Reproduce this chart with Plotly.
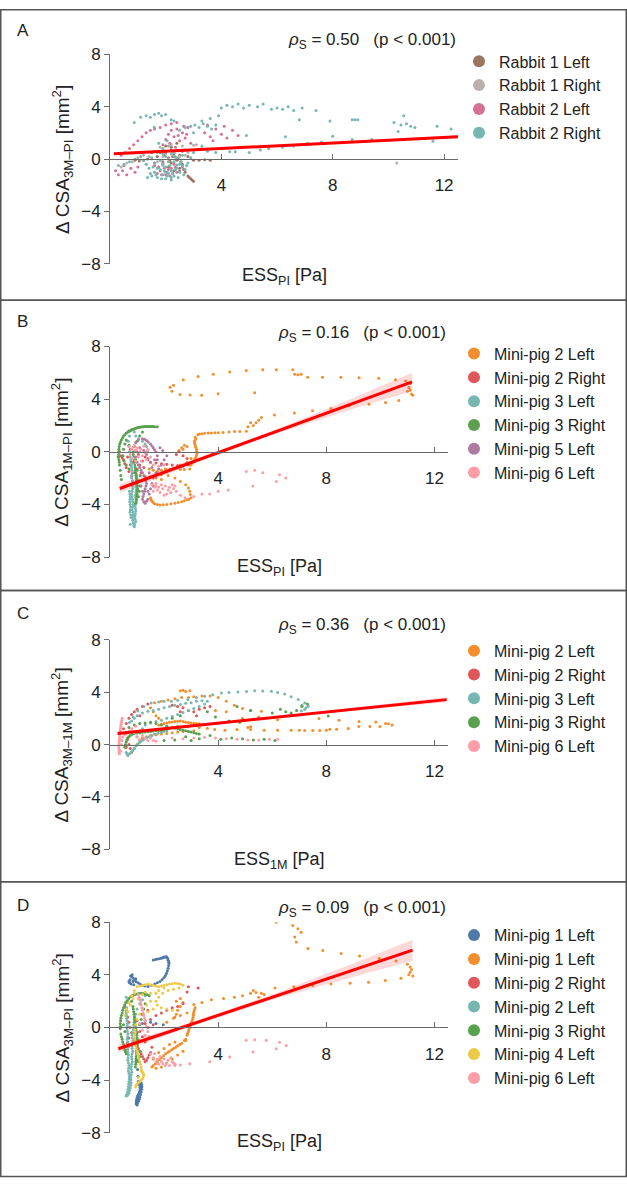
import plotly.graph_objects as go

W, H = 627, 1188

# ---------------- DATA ----------------
A_rabbit1_left = [(0.9,-0.1),(1.05,-0.15),(1.2,-0.1),(1.35,0.0),(1.7,0.2),(1.8,0.5),(1.9,-0.2),(2.0,0.6),(2.1,0.1),(2.2,-0.3),
    (2.3,0.4),(2.4,-0.1),(2.5,0.3),(2.6,-0.4),(2.1,-0.6),(2.3,-0.9),(2.5,-0.7),(2.7,-1.0),(2.8,-1.3),(2.9,-1.5),(3.0,-1.7),
    (2.95,-1.6),(2.0,1.0),(2.2,0.9),(2.4,1.2),(2.6,0.6),(2.8,0.2),(3.0,-0.1),(3.2,-0.1),(3.4,-0.05),(3.6,-0.1),(1.6,-0.3),
    (1.5,0.5),(2.7,0.7),(2.25,0.2),(2.45,0.0),(1.95,0.3),(2.15,-0.15),(2.35,0.15),(2.55,-0.2),(2.65,-0.8),(2.85,-1.4)]
A_rabbit1_right = [(0.6,-0.3),(0.8,-0.2),(1.0,0.1),(1.2,0.3),(1.4,0.2),(1.6,0.6),(1.8,0.9),(2.0,0.4),(2.2,1.1),(2.4,0.7),
    (2.6,1.0),(2.8,0.5),(3.0,1.05),(3.1,1.1),(3.3,0.8),(1.7,-0.2),(1.9,-0.5),(2.1,0.0),(2.3,-0.3),(2.5,0.2),(10.3,-0.3),
    (0.4,-0.6),(1.3,-0.4),(1.5,0.0),(1.9,0.2),(2.3,0.5),(2.7,0.3)]
A_rabbit2_left = [(0.2,-0.9),(0.3,-1.2),(0.45,-0.9),(0.6,-1.2),(0.5,-0.5),(0.75,-0.7),(0.9,-1.0),(1.0,-0.6),(0.4,0.3),
    (0.55,0.5),(0.7,0.8),(0.85,1.1),(1.0,1.4),(1.15,1.7),(1.3,2.0),(1.45,2.2),(1.6,2.3),(1.8,2.4),(2.0,2.6),(2.2,2.7),
    (2.4,2.8),(2.0,1.5),(2.1,1.9),(2.2,2.2),(2.3,1.7),(2.4,2.3),(2.5,1.4),(2.6,2.0),(2.7,1.6),(2.8,2.4),(2.9,1.2),
    (2.15,1.2),(2.35,0.9),(1.9,1.1),(2.0,0.5),(2.2,0.7),(3.4,2.0),(3.6,1.7),(3.8,2.3),(4.0,1.9),(4.2,1.6),(4.4,2.2),
    (4.6,1.8),(3.7,1.4),(4.1,2.5),(3.5,2.6),(1.6,-0.5),(1.8,-0.9),(2.0,-1.2),(2.2,-0.7),(2.4,-1.0),(1.7,-1.1),(1.9,-0.3),
    (2.1,-0.8),(2.3,-0.4),(2.6,-0.6),(1.75,-0.6),(1.95,-0.7),(2.05,-1.0),(2.15,-1.3),(2.25,-1.1),(1.85,-1.2),(2.35,-0.6),
    (2.5,-0.9),(2.45,1.8),(2.65,2.5),(2.75,1.9)]
A_rabbit2_right = [(1.5,-1.3),(1.6,-1.0),(1.7,-1.4),(1.8,-0.8),(1.9,-1.2),(2.0,-0.6),(2.1,-1.1),(2.2,-0.9),(2.3,-1.3),
    (2.4,-0.7),(2.5,-1.0),(2.6,-0.5),(1.6,-0.3),(1.8,-0.1),(2.0,0.2),(2.2,0.4),(2.4,0.1),(1.7,0.5),(1.9,0.8),(2.1,1.0),
    (2.3,-0.2),(2.5,-0.4),(2.7,-0.8),(1.4,-0.7),(1.5,0.1),(1.3,-0.4),(2.8,-0.3),(2.0,-1.5),(2.2,-1.6),(1.9,-0.4),
    (2.1,-0.2),(2.3,0.6),(2.6,0.3),(2.9,0.1),(1.75,1.2),(2.05,1.4),(0.3,-0.5),(0.5,-0.4),(0.7,-0.2),(0.9,0.0),(1.1,0.2),
    (1.2,-0.1),(0.87,2.8),(1.1,3.2),(1.3,3.3),(1.45,3.2),(1.6,3.4),(1.75,3.5),(1.85,3.3),(2.0,3.4),(2.2,3.0),(2.3,2.9),
    (1.59,2.43),(2.5,2.2),(2.7,2.4),(3.0,2.0),(2.9,2.5),(3.05,2.6),(3.2,2.4),(3.35,2.7),(3.5,2.5),(3.65,2.3),(3.8,2.6),
    (3.3,2.9),(3.6,3.1),(3.9,3.3),(4.0,3.9),(4.2,4.1),(4.4,4.0),(4.6,4.2),(4.8,3.9),(5.0,4.1),(5.3,4.0),(5.5,4.2),
    (5.8,3.8),(6.0,3.9),(6.2,3.8),(6.4,4.0),(6.6,3.7),(6.9,3.9),(7.4,3.7),(7.9,2.9),(8.0,1.75),(8.7,3.0),(8.8,3.0),
    (8.9,3.0),(8.7,1.5),(9.4,1.5),(10.2,2.8),(10.35,2.1),(10.45,2.6),(10.55,3.3),(10.65,2.7),(10.8,2.5),(10.95,2.4),
    (11.6,1.35),(11.75,2.5),(12.25,2.3),(3.0,0.5),(3.3,1.0),(3.5,0.6),(3.8,0.5),(4.3,0.55),(4.5,0.55),(5.0,0.5),
    (5.4,0.7),(5.7,0.8),(6.2,0.9),(6.6,1.0),(4.9,1.8),(6.3,1.7),(6.8,3.0),(7.1,1.2),(7.6,1.3),(1.55,-0.6),(1.65,-1.2),
    (1.85,-1.5),(1.95,-0.9),(2.05,-1.3),(2.15,-0.5),(2.25,-1.1),(2.35,-0.8),(2.45,-1.4),(2.55,-0.2),(1.45,-1.1),
    (2.65,-1.2),(2.75,-0.5),(1.35,-1.4),(2.0,-1.0),(2.2,-1.4),(1.7,-0.7),(2.4,-0.45),(1.9,0.4),(2.3,0.2)]

B_mp2_left = [(2.22,4.91),(2.29,4.61),(2.35,5.06),(2.59,4.36),(2.71,5.48),(2.96,4.31),(3.26,5.73),(3.39,4.29),(3.82,5.9),
    (4.0,4.41),(4.43,6.06),(5.04,6.18),(5.35,4.49),(5.65,6.23),(6.15,6.23),(6.76,6.23),(6.83,5.9),(6.95,5.85),(7.07,5.9),
    (7.31,5.66),(7.86,5.66),(8.54,5.66),(9.21,5.63),(9.94,5.58),(10.56,5.48),(10.93,5.38),(11.11,5.18),(11.05,4.88),
    (11.0,4.6),(11.15,4.4),(11.2,4.3),(11.1,4.7),(10.68,3.9),(10.19,3.74),(9.58,3.61),(8.84,3.49),(8.17,3.29),(7.49,3.12),
    (6.82,2.94),(6.08,2.79),(5.6,2.6),(5.5,2.4),(5.4,2.2),(5.3,2.0),(5.2,2.2),(5.1,1.9),(5.04,1.57),(4.61,1.54),(4.18,1.47),
    (3.88,1.44),(3.63,1.42),(3.39,1.37),(3.25,1.3),(3.15,1.1),(3.12,0.8),(3.15,0.5),(3.2,0.2),(3.22,-0.1),(3.18,-0.4),
    (3.1,-0.7),(3.0,-1.0),(2.55,0.1),(2.65,0.3),(2.75,0.5),(2.85,0.4),(2.7,0.2),(2.1,-1.5),(2.35,-1.25),(2.6,-1.0),
    (2.85,-0.8),(3.0,-0.5),(1.9,-1.75),(2.15,-1.8),(2.4,-2.0),(2.6,-2.25),(2.8,-2.5),(2.9,-2.75),(2.95,-3.0),(3.0,-3.5),
    (2.85,-3.65),(2.65,-3.8),(2.4,-3.9),(2.1,-4.0),(1.85,-4.05),(1.65,-3.95),(1.55,-3.75),(1.5,-3.5),(1.45,-1.3),(1.6,-1.4),
    (1.75,-1.5),(1.9,-1.4),(2.05,-1.3),(2.2,-1.35),(1.5,-1.9),(1.7,-2.0),(1.9,-2.1),(2.6,-1.35),(2.75,-1.35),(2.95,-1.3),
    (2.97,-3.25),(2.92,-3.6),(2.75,-3.72),(2.52,-3.85),(2.25,-3.95),(1.97,-4.03),(1.75,-4.0),(1.6,-3.85),(1.52,-3.62),
    (3.17,0.95),(3.13,0.65),(3.17,0.35),(3.21,0.05),(3.2,-0.25),(3.14,-0.55),(3.05,-0.85),(3.3,1.35),(3.5,1.4),(3.75,1.43),
    (4.0,1.45),(4.4,1.5),(4.8,1.55)]
B_mp2_right = [(0.35,0.0),(0.4,-0.3),(0.5,-0.6),(0.55,-0.9),(0.6,-1.2),(0.7,-1.5),(0.8,-1.8),(0.9,-1.6),(1.0,-1.3),(1.1,-1.0),
    (1.2,-0.7),(1.3,-0.4),(1.15,-1.6),(1.3,-1.9),(0.65,-0.4),(0.85,-0.8),(1.05,-0.2),(1.5,-0.8),(1.7,-0.85),(1.9,-0.9),
    (2.1,-0.95),(2.3,-1.0),(2.5,-1.05),(2.7,-1.1),(2.9,-1.0),(2.55,0.0),(2.7,-0.3),(2.85,-0.5),(2.45,-0.2),(0.75,0.2),(0.95,0.1),
    (0.45,-0.45),(0.75,-1.0),(1.25,-1.2),(1.4,-0.6)]
B_mp3_left = [(0.7,1.6),(0.72,1.2),(0.68,0.8),(0.7,0.4),(0.72,0.0),(0.75,-0.4),(0.78,-0.8),(0.8,-1.2),(0.82,-1.6),(0.8,-2.0),
    (0.82,-2.4),(0.84,-2.8),(0.8,-3.2),(0.83,-3.6),(0.85,-4.0),(0.82,-4.4),(0.86,-4.8),(0.84,-5.2),(0.88,-5.6),(0.9,-5.7),
    (0.95,-5.3),(0.92,-4.9),(0.95,-4.5),(0.93,-4.1),(0.96,-3.7),(0.94,-3.3),(0.97,-2.9),(0.95,-2.5),(1.0,-2.1),(0.98,-1.7),
    (0.75,-5.5),(0.78,-5.0),(0.74,-4.6),(0.76,-4.2),(0.73,-3.8),(0.75,-3.4),(0.72,-3.0),(0.8,1.7),(0.9,1.5),(0.95,1.2),
    (1.05,1.0),(1.2,0.8),(1.35,0.4),(1.4,0.1),(1.3,0.6),(0.77,-0.6),(0.79,-1.0),(0.81,-1.4),(0.81,-1.8),(0.83,-2.2),
    (0.83,-2.6),(0.82,-3.0),(0.82,-3.4),(0.84,-3.8),(0.84,-4.2),(0.85,-4.6),(0.85,-5.0),(0.86,-5.4),(0.91,-5.5),(0.93,-5.1),
    (0.94,-4.7),(0.94,-4.3),(0.95,-3.9),(0.95,-3.5),(0.96,-3.1),(0.96,-2.7),(0.98,-2.3),(0.99,-1.9),(0.77,-4.8),(0.75,-4.4),
    (0.745,-4.0),(0.74,-3.6),(0.735,-3.2)]
B_mp3_right = [(0.35,-1.0),(0.33,-0.6),(0.32,-0.2),(0.33,0.2),(0.36,0.6),(0.42,0.9),(0.5,1.2),(0.6,1.4),(0.7,1.55),(0.8,1.65),
    (0.9,1.75),(1.0,1.82),(1.1,1.86),(1.2,1.9),(1.3,1.92),(1.4,1.92),(1.5,1.93),(1.6,1.92),(1.75,1.9),(0.38,-1.4),(0.4,-1.8),
    (0.42,-2.1),(0.3,-0.4),(0.55,0.6),(0.5,0.2),(0.48,-0.3),(0.52,-0.7),(0.6,-1.0),(0.7,-1.3),(0.85,0.0),(0.88,-0.4),
    (0.9,-0.8),(0.93,-1.2),(0.95,-1.6),(0.97,-2.0),(1.0,-2.4),(1.02,-2.8),(1.0,-3.2),(0.98,-3.6),(0.95,-3.9),(1.05,-3.4),
    (1.08,-3.0),(1.1,-2.6),(1.05,-2.2),(1.12,-1.8),(1.0,-1.4),(0.95,-0.6),(0.9,0.4),(1.0,0.8),(1.1,1.2),(1.2,1.5),(0.6,0.9),
    (0.7,0.5),(0.34,-0.8),(0.32,-0.4),(0.32,0.0),(0.34,0.4),(0.39,0.75),(0.46,1.05),(0.55,1.3),(0.65,1.48),(0.75,1.6),
    (0.85,1.7),(0.95,1.78),(1.05,1.84),(1.15,1.88),(1.25,1.91),(1.35,1.92),(1.45,1.93),(1.55,1.92),(1.65,1.91),(0.86,-0.2),
    (0.89,-0.6),(0.92,-1.0),(0.94,-1.4),(0.96,-1.8),(0.98,-2.2),(1.01,-2.6),(1.01,-3.0),(0.99,-3.4),(0.97,-3.8)]
B_mp5_left = [(0.95,0.7),(1.05,0.9),(1.2,1.0),(1.35,0.85),(1.5,0.6),(1.6,0.3),(1.7,0.0),(1.75,-0.3),(1.65,-0.6),(1.5,-0.8),
    (1.4,-0.5),(1.35,-0.2),(1.25,0.1),(1.1,0.3),(1.0,0.0),(0.95,-0.4),(1.0,-0.8),(1.1,-1.2),(1.2,-1.6),(1.3,-2.0),(1.35,-2.4),
    (1.3,-2.8),(1.25,-3.2),(1.2,-3.6),(1.3,-3.9),(1.4,-3.6),(1.45,-3.2),(1.5,-2.8),(1.55,-2.4),(1.6,-2.0),(1.7,-1.6),
    (1.8,-1.3),(1.9,-1.0),(2.0,-0.6),(2.1,-0.3),(1.85,0.3),(1.95,0.1),(1.55,-1.2),(1.45,-1.6),(1.15,-2.6),(1.2,-3.0),
    (1.4,-3.0),(1.6,-2.6),(1.75,-0.6),(1.28,0.95),(1.42,0.75),(1.55,0.45),(1.65,0.15),(1.05,-1.0),(1.15,-1.4),(1.25,-1.8),
    (1.32,-2.2),(1.33,-2.6),(1.28,-3.0),(1.22,-3.4),(1.25,-3.8),(1.35,-3.75)]
B_mp6_left = [(0.7,0.4),(0.8,0.2),(0.9,0.5),(1.0,0.3),(1.1,0.0),(1.2,-0.3),(1.3,-0.1),(1.4,0.2),(1.25,0.45),(1.05,-0.4),
    (0.95,-0.7),(0.85,-0.5),(1.15,-0.7),(1.35,-0.6),(0.75,-0.2),(1.5,-0.4),(1.6,-1.0),(1.8,-1.1),(2.0,-1.0),(1.55,-2.5),
    (1.65,-2.7),(1.75,-2.9),(1.85,-3.1),(1.95,-2.8),(2.05,-2.6),(2.15,-2.9),(2.25,-3.1),(2.35,-2.8),(2.45,-3.0),(1.7,-2.4),
    (1.9,-2.5),(2.1,-3.2),(2.3,-2.5),(1.6,-3.0),(2.0,-3.3),(2.6,-3.3),(2.78,-3.5),(3.1,-3.4),(3.4,-3.2),(3.69,-3.2),
    (4.0,-3.0),(4.37,-2.9),(5.04,-1.5),(5.35,-1.4),(5.28,-2.6),(5.65,-1.6),(6.15,-2.25),(6.27,-1.75),(6.5,-2.0),
    (0.85,0.35),(0.95,0.15),(1.15,0.2),(1.35,0.0),(1.7,-2.6),(1.8,-2.7),(2.2,-2.7),(2.4,-2.6)]

C_mp2_left = [(1.65,3.2),(1.9,3.3),(2.15,3.4),(2.4,3.5),(2.6,4.1),(2.7,4.15),(2.8,4.05),(2.95,4.1),(2.65,3.6),(2.9,3.6),
    (3.1,3.65),(3.4,3.7),(3.7,3.7),(4.0,3.6),(4.3,3.3),(4.6,3.0),(4.9,2.75),(5.2,2.6),(5.6,2.55),(7.73,1.98),(8.47,1.85),
    (9.21,1.75),(9.83,1.73),(9.98,1.38),(10.19,1.6),(10.3,1.58),(10.43,1.5),(9.61,1.37),(9.2,1.37),(8.81,1.22),(8.38,1.17),
    (8.13,1.17),(8.0,1.1),(7.76,1.08),(7.5,1.08),(7.2,1.08),(3.87,1.15),(4.25,1.1),(4.7,1.15),(5.2,1.15),(5.7,1.1),
    (6.2,1.1),(6.7,1.1),(7.0,1.1),(5.1,1.3),(5.2,1.35),(3.9,2.6),(4.3,2.5),(4.9,2.0),(5.5,2.1),(6.2,1.9),(1.8,1.5),(2.0,1.6),
    (2.2,1.7),(2.4,1.75),(2.6,1.8),(2.8,1.7),(3.0,1.65),(3.2,1.6),(3.4,1.55),(2.1,1.35),(2.5,1.4),(2.9,1.35),(3.3,1.3),
    (3.6,1.25),(1.5,2.8),(1.6,2.5),(1.7,2.2),(1.8,2.0),(0.8,-0.6),(0.9,-0.3),(1.0,0.0),(1.1,0.3),(1.2,0.5),(1.35,0.6),
    (1.5,0.7),(1.7,0.75),(1.9,0.8),(2.1,0.85),(2.3,0.9),(2.5,0.95),(2.7,1.0),(2.9,1.0),(3.1,1.05),(1.9,1.55),(2.1,1.65),
    (2.3,1.72),(2.5,1.78),(2.7,1.75),(2.9,1.68),(3.1,1.62),(3.3,1.58)]
C_mp2_right = [(0.5,1.2),(0.6,1.6),(0.7,2.0),(0.8,2.3),(0.9,2.5),(1.0,2.7),(1.2,2.9),(1.4,3.1),(0.55,0.8),(0.65,0.4),(0.6,-0.2),
    (0.7,0.0),(0.75,-0.3),(1.1,2.2),(2.3,3.0),(2.5,2.9),(2.7,2.8),(2.9,2.6),(3.1,2.5),(3.3,2.7),(3.5,2.8),(3.7,2.9),(2.6,2.5),(3.2,2.2)]
C_mp3_left = [(0.72,1.68),(0.85,2.1),(1.03,2.56),(1.25,2.9),(1.52,3.18),(1.8,3.25),(2.0,3.3),(2.27,3.31),(2.5,3.38),(2.88,3.43),
    (3.2,3.6),(3.5,3.68),(3.8,3.8),(4.12,3.93),(4.4,3.98),(4.73,4.01),(5.05,4.05),(5.35,4.11),(5.65,4.08),(5.97,4.06),(6.2,3.98),
    (6.46,3.86),(6.7,3.65),(6.96,3.43),(7.2,3.18),(7.33,2.93),(7.2,2.68),(7.08,2.56),(7.25,2.8),(7.1,3.0),(0.6,-0.6),(0.66,-0.83),
    (0.78,-0.58),(0.9,-0.3),(1.03,0.05),(1.15,0.25),(1.28,0.43),(1.45,0.6),(1.65,0.8),(1.9,0.93),(2.1,1.05),(0.8,1.8),(0.9,2.0),
    (1.0,2.2),(1.2,2.4),(1.4,2.55),(1.6,2.6),(1.8,2.7),(2.0,2.8),(2.2,2.9),(2.4,3.0),(2.6,3.05),(2.8,3.15),(3.0,3.2),(3.2,3.3),
    (3.4,3.35),(1.3,1.5),(1.5,1.65),(1.7,1.75),(1.9,1.85),(2.1,2.0),(2.3,2.15),(2.5,2.3),(2.7,2.45),(2.9,2.6),(3.1,2.75),
    (3.3,2.9),(3.5,3.1),(3.6,3.3),(1.0,0.6),(1.1,0.9),(1.2,1.2),(0.63,-0.72),(0.72,-0.7),(0.84,-0.45),(0.96,-0.12),(1.09,0.15),
    (1.21,0.34),(1.36,0.52),(1.55,0.7),(1.78,0.87),(2.0,0.99)]
C_mp3_right = [(0.55,-0.2),(0.6,0.2),(0.65,0.5),(0.75,0.7),(0.9,0.85),(1.1,0.9),(1.3,0.95),(1.5,1.0),(1.7,1.05),(1.9,1.1),
    (2.1,1.2),(2.3,1.3),(2.5,1.2),(2.7,1.1),(2.9,1.0),(3.1,0.9),(3.3,0.8),(0.7,1.3),(0.9,1.5),(1.1,1.6),(1.3,1.65),(1.5,1.7),
    (1.7,1.6),(1.9,1.5),(2.1,1.4),(3.3,0.45),(3.7,0.7),(4.1,0.4),(4.5,0.5),(4.9,0.45),(5.3,0.35),(5.7,0.4),(6.1,0.3),(3.6,2.5),
    (3.9,2.1),(4.4,1.8),(4.8,1.7),(5.2,2.6),(6.0,2.4),(6.3,2.7),(6.5,2.5),(6.7,2.4),(6.9,2.6),(7.1,2.9),(7.3,3.1),(8.07,2.18),
    (2.0,0.3),(2.4,0.35),(2.8,0.6),(3.0,0.3),(4.7,2.9),(2.3,2.0),(2.6,2.2),(0.57,0.0),(0.62,0.35),(0.7,0.6),(0.82,0.78),
    (1.0,0.88),(1.2,0.93),(1.4,0.98),(1.6,1.03),(1.8,1.08),(2.0,1.15),(2.2,1.25),(2.4,1.25),(2.6,1.15),(2.8,1.05),(3.0,0.95),
    (3.2,0.85)]
C_mp6_left = [(0.35,-0.7),(0.33,-0.4),(0.32,-0.1),(0.34,0.2),(0.36,0.5),(0.35,0.8),(0.38,1.1),(0.4,1.4),(0.42,1.7),(0.45,2.0),
    (0.4,-0.5),(0.42,0.0),(0.45,0.3),(0.48,0.6),(0.6,0.8),(0.7,1.0),(0.8,1.2),(0.9,0.9),(1.0,0.6),(1.1,0.4),(1.2,0.7),(1.3,0.5),
    (1.4,0.3),(1.5,0.5),(1.6,0.3),(1.7,0.25),(0.95,1.4),(1.15,1.1),(2.3,0.5),(2.7,0.45),(3.1,0.5),(3.5,0.55),(3.9,0.5),
    (4.3,0.45),(4.7,0.4),(5.1,0.35),(5.5,0.35),(5.9,0.4),(6.2,0.4),(0.33,-0.55),(0.33,-0.25),(0.33,0.05),(0.35,0.35),
    (0.355,0.65),(0.365,0.95),(0.39,1.25),(0.41,1.55),(0.435,1.85)]

D_mp1_left = [(1.6,5.12),(1.75,5.2),(1.9,5.25),(2.0,5.35),(2.09,5.37),(2.15,5.1),(2.18,4.87),(2.15,4.5),(2.09,4.12),(2.0,3.8),
    (1.85,3.5),(1.65,3.3),(1.41,3.12),(1.2,3.2),(1.05,3.37),(0.9,3.6),(0.8,3.87),(0.74,3.62),(0.72,3.4),(0.78,3.3),(0.85,3.5),
    (0.95,3.7),(0.88,3.25),(0.82,4.0),(0.76,3.9),(0.7,3.5),(1.05,-4.1),(1.1,-4.4),(1.12,-4.7),(1.08,-5.0),(1.02,-5.2),
    (0.98,-5.5),(0.97,-5.8),(1.0,-5.9),(1.05,-5.6),(1.1,-5.3),(1.15,-4.9),(1.18,-4.5),(1.15,-4.2),(1.3,0.5),(1.5,0.4),
    (1.7,0.3),(1.97,0.2),(1.2,0.3),(1.0,-0.4),(1.0,-1.0),(0.98,-1.8),(1.0,-2.5),(1.02,-3.2),(1.04,-3.7),(1.68,5.16),
    (1.83,5.22),(1.95,5.3),(2.04,5.36),(2.13,5.25),(2.17,5.0),(2.17,4.7),(2.12,4.3),(2.05,3.95),(1.93,3.65),(1.75,3.4),
    (1.53,3.2),(1.3,3.15),(1.12,3.28),(0.97,3.48),(0.85,3.75),(1.07,-4.25),(1.11,-4.55),(1.1,-4.85),(1.05,-5.1),(1.0,-5.35),
    (0.97,-5.65),(1.02,-5.75),(1.08,-5.45),(1.13,-5.1),(1.17,-4.7),(1.17,-4.35)]
D_mp1_left_b = [(6.15,7.99),(6.76,7.74),(6.95,7.49),(7.07,7.24),(6.83,6.87),(6.89,6.49),(7.32,5.99),(7.87,5.84),(8.55,5.62),
    (9.23,5.42),(9.96,5.24),(10.58,5.04),(11.0,4.8),(11.1,4.6),(11.15,4.4),(11.1,4.2),(11.05,4.0),(11.2,3.9),(10.76,3.73),
    (10.18,3.56),(9.56,3.43),(8.88,3.36),(8.17,3.3),(7.5,3.18),(3.1,1.75),(3.4,1.9),(3.75,2.1),(4.2,2.2),(4.6,2.3),(4.9,2.4),
    (5.2,2.6),(5.3,2.8),(5.4,2.65),(5.6,2.6),(5.7,2.5),(6.1,3.0),(6.8,3.1),(5.5,2.3),(3.15,1.5),(3.1,1.2),(3.08,0.9),(3.05,0.6),
    (3.0,0.3),(2.95,0.0),(2.9,-0.3),(2.85,-0.6),(2.8,-0.9),(2.75,-1.0),(2.45,2.0),(2.6,2.2),(2.7,1.9),(2.6,1.6),(2.5,1.3),
    (2.45,1.0),(2.4,0.8),(2.1,0.4),(2.35,0.7),(2.6,0.9),(2.85,1.1),(1.6,-2.9),(1.75,-2.6),(1.9,-2.3),(2.05,-2.0),(2.2,-1.8),
    (2.35,-1.6),(2.5,-1.4),(2.65,-1.2),(2.8,-1.0),(1.7,-3.1),(1.9,-3.0),(2.1,-2.7),(2.3,-2.4),(2.5,-2.1),(2.7,-1.8),(1.8,-1.9),
    (2.0,-1.6),(2.2,-1.3),(2.4,-1.1),(1.6,-2.4),(1.55,-3.0),(1.68,-2.75),(1.83,-2.45),(1.98,-2.15),(2.13,-1.9),(2.28,-1.7),
    (2.43,-1.5),(2.58,-1.3),(3.12,1.35),(3.09,1.05),(3.07,0.75),(3.02,0.45),(2.97,0.15),(2.92,-0.15),(2.87,-0.45)]
D_mp2_right = [(0.55,1.6),(0.6,1.2),(0.65,0.8),(0.7,0.4),(0.75,0.0),(0.8,-0.4),(0.7,-0.8),(0.65,-1.2),(0.9,-1.0),(1.0,-1.4),
    (1.1,-1.8),(1.2,-2.2),(1.3,-2.6),(1.4,-2.3),(1.5,-1.9),(1.55,-1.5),(1.3,-1.1),(1.2,-0.7),(1.1,-0.3),(1.3,0.3),(1.5,0.6),
    (1.7,0.9),(1.9,1.1),(2.1,1.3),(2.3,1.5),(2.5,1.6),(2.7,1.8),(3.26,3.0),(2.85,2.7),(2.9,3.1),(1.6,0.2),(1.4,0.0),(1.0,0.5),
    (1.2,1.0),(1.4,1.3),(1.25,-2.4),(1.35,-2.5),(1.45,-2.1),(1.05,-1.6),(1.15,-2.0)]
D_mp2_left = [(0.6,2.3),(0.65,1.9),(0.62,1.5),(0.6,1.1),(0.62,0.7),(0.65,0.3),(0.63,-0.1),(0.66,-0.5),(0.64,-0.9),(0.67,-1.3),
    (0.65,-1.7),(0.68,-2.1),(0.66,-2.5),(0.7,-2.9),(0.68,-3.3),(0.72,-3.7),(0.7,-4.1),(0.68,-4.5),(0.65,-4.9),(0.6,-5.2),
    (0.7,-5.0),(0.75,-4.6),(0.78,-4.2),(0.76,-3.8),(0.8,-3.4),(0.78,-3.0),(0.82,-2.6),(0.8,-2.2),(0.84,-1.8),(0.8,-1.4),
    (0.85,-1.0),(0.82,-0.6),(0.86,-0.2),(0.88,0.2),(0.9,0.6),(0.95,1.0),(1.0,1.4),(1.1,1.8),(1.2,2.1),(1.3,2.4),(0.61,1.3),
    (0.61,0.9),(0.63,0.5),(0.64,0.1),(0.645,-0.3),(0.65,-0.7),(0.655,-1.1),(0.66,-1.5),(0.665,-1.9),(0.67,-2.3),(0.68,-2.7),
    (0.69,-3.1),(0.7,-3.5),(0.71,-3.9),(0.69,-4.3),(0.665,-4.7),(0.62,-5.1),(0.65,-5.15),(0.72,-4.8),(0.765,-4.4),(0.77,-4.0),
    (0.78,-3.6),(0.79,-3.2),(0.8,-2.8),(0.81,-2.4),(0.82,-2.0),(0.82,-1.6),(0.825,-1.2),(0.835,-0.8),(0.84,-0.4),(0.87,0.0),
    (0.89,0.4),(0.92,0.8)]
D_mp3_right = [(0.4,-0.5),(0.38,-0.1),(0.38,0.3),(0.4,0.7),(0.45,1.1),(0.5,1.5),(0.58,1.9),(0.7,2.2),(0.85,2.45),(1.0,2.55),
    (1.15,2.6),(1.3,2.55),(1.45,2.4),(0.45,-0.9),(0.5,-1.3),(0.55,-1.7),(0.6,-2.0),(0.8,2.0),(0.85,1.6),(0.88,1.2),(0.9,0.8),
    (0.92,0.4),(0.95,0.0),(0.98,-0.4),(1.0,-0.8),(1.02,-1.2),(1.0,-1.6),(0.98,-2.0),(0.96,-2.4),(0.95,-2.8),(0.94,-3.0),
    (1.05,-2.6),(1.1,-2.2),(1.12,-1.8),(1.08,-1.0),(1.1,0.2),(1.15,0.6),(1.2,1.0),(1.25,1.4),(1.3,1.8),(0.5,0.2),(0.55,-0.3),
    (0.39,0.1),(0.39,0.5),(0.42,0.9),(0.47,1.3),(0.54,1.7),(0.64,2.05),(0.77,2.35),(0.92,2.5),(1.07,2.58),(1.22,2.58),
    (1.38,2.48),(0.42,-0.7),(0.47,-1.1),(0.52,-1.5),(0.57,-1.85),(0.86,1.4),(0.89,1.0),(0.91,0.6),(0.93,0.2),(0.96,-0.2),
    (0.99,-0.6),(1.01,-1.0),(1.01,-1.4),(0.99,-1.8),(0.97,-2.2),(0.955,-2.6)]
D_mp4_left = [(0.55,0.9),(0.6,1.4),(0.7,1.9),(0.8,2.4),(0.9,2.8),(1.0,3.1),(1.2,3.2),(1.4,3.3),(1.6,3.2),(1.8,3.1),(2.0,3.2),
    (2.2,3.3),(2.4,3.35),(2.6,3.3),(2.7,3.2),(2.55,3.0),(2.35,2.9),(2.15,2.8),(1.95,2.6),(1.8,2.3),(1.7,2.0),(1.75,1.7),(1.9,1.5),
    (2.1,1.4),(2.3,1.3),(1.5,2.0),(1.35,1.7),(1.2,1.4),(1.1,1.0),(1.0,0.6),(0.95,0.2),(0.92,-0.2),(0.9,-0.6),(0.92,-1.0),
    (0.95,-1.4),(1.0,-1.8),(1.05,-2.2),(1.1,-2.6),(1.15,-3.0),(1.2,-3.4),(1.25,-3.6),(1.2,-3.9),(1.1,-4.1),(1.0,-4.3),
    (0.95,-4.5),(1.05,-3.8),(1.15,-3.3),(1.3,2.7),(1.5,2.6),(1.7,2.6),(1.2,2.5),(1.05,2.2),(1.6,1.4),(1.4,1.2),(1.8,2.8),(2.0,3.0),
    (0.93,-0.4),(0.91,-0.8),(0.93,-1.2),(0.97,-1.6),(1.02,-2.0),(1.07,-2.4),(1.12,-2.8),(1.17,-3.2),(1.22,-3.5),(1.23,-3.75),
    (1.15,-4.0),(1.05,-4.2),(0.97,-4.4),(0.9,2.6),(0.85,2.2),(0.75,1.7),(0.65,1.2),(1.1,3.15),(1.3,3.25),(1.5,3.25),(1.7,3.15),
    (1.9,3.15),(2.1,3.25),(2.3,3.32),(2.5,3.33)]
D_mp6_left = [(1.05,2.5),(1.1,2.1),(1.15,1.7),(1.2,1.3),(1.25,0.9),(1.3,0.5),(1.35,0.1),(1.4,-0.3),(1.45,-0.7),(1.2,-0.2),
    (1.1,0.3),(1.3,-0.6),(1.5,-2.0),(1.6,-2.3),(1.7,-2.6),(1.8,-2.8),(1.9,-2.6),(2.0,-2.4),(2.1,-2.7),(2.2,-2.9),(2.3,-2.6),
    (2.4,-2.8),(1.65,-2.0),(1.85,-2.2),(2.05,-2.9),(2.25,-2.3),(2.4,-2.9),(2.6,-2.85),(2.95,-2.75),(3.69,-2.6),(4.43,-2.25),
    (5.04,-0.98),(5.35,-0.93),(5.29,-1.87),(5.78,-0.98),(6.15,-1.62),(6.27,-1.13),(6.52,-1.37),(1.08,2.3),(1.13,1.9),
    (1.18,1.5),(1.23,1.1),(1.28,0.7),(1.75,-2.4),(1.95,-2.75),(2.15,-2.5),(2.35,-2.7)]

# regression lines (x, fitted y, lower and upper confidence bound)
A_fit_x = [0.14, 3, 6, 9, 12.5]; A_fit_y = [0.40, 0.70, 1.02, 1.33, 1.70]
A_fit_lo = [0.32, 0.66, 0.98, 1.27, 1.58]; A_fit_hi = [0.48, 0.74, 1.06, 1.39, 1.82]
B_fit_x = [0.36, 3, 6, 9, 11.17]; B_fit_y = [-2.79, -0.81, 1.43, 3.68, 5.31]
B_fit_lo = [-3.14, -0.96, 1.28, 3.28, 4.61]; B_fit_hi = [-2.44, -0.66, 1.58, 4.08, 6.01]
C_fit_x = [0.28, 3, 6, 9, 12.45]; C_fit_y = [0.85, 1.43, 2.06, 2.70, 3.43]
C_fit_lo = [0.73, 1.38, 2.01, 2.60, 3.23]; C_fit_hi = [0.97, 1.48, 2.11, 2.80, 3.63]
D_fit_x = [0.31, 3, 6, 9, 11.19]; D_fit_y = [-1.62, 0.23, 2.30, 4.36, 5.87]
D_fit_lo = [-1.92, 0.08, 2.10, 3.86, 5.07]; D_fit_hi = [-1.32, 0.38, 2.50, 4.86, 6.67]

rho_text = ["0.50", "0.16", "0.36", "0.09"]
panel_letters = ["A", "B", "C", "D"]
y_titles = ["Δ CSA<sub>3M–PI</sub> [mm<sup>2</sup>]", "Δ CSA<sub>1M–PI</sub> [mm<sup>2</sup>]",
            "Δ CSA<sub>3M–1M</sub> [mm<sup>2</sup>]", "Δ CSA<sub>3M–PI</sub> [mm<sup>2</sup>]"]
x_titles = ["ESS<sub>PI</sub> [Pa]", "ESS<sub>PI</sub> [Pa]", "ESS<sub>1M</sub> [Pa]", "ESS<sub>PI</sub> [Pa]"]
x_ticks = [4, 8, 12]
y_ticks = [-8, -4, 0, 4, 8]

C_BLUE, C_ORANGE, C_RED, C_TEAL = "#4e79a7", "#f28e2b", "#e15759", "#76b7b2"
C_GREEN, C_YELLOW, C_PURPLE, C_PINK = "#59a14f", "#edc948", "#b07aa1", "#ff9da7"
C_BROWN, C_GREY, C_MAGENTA = "#9c755f", "#bab0ac", "#d37295"

panels_series = [
    [("Rabbit 1 Left", C_BROWN, A_rabbit1_left), ("Rabbit 1 Right", C_GREY, A_rabbit1_right),
     ("Rabbit 2 Left", C_MAGENTA, A_rabbit2_left), ("Rabbit 2 Right", C_TEAL, A_rabbit2_right)],
    [("Mini-pig 2 Left", C_ORANGE, B_mp2_left), ("Mini-pig 2 Right", C_RED, B_mp2_right),
     ("Mini-pig 3 Left", C_TEAL, B_mp3_left), ("Mini-pig 3 Right", C_GREEN, B_mp3_right),
     ("Mini-pig 5 Left", C_PURPLE, B_mp5_left), ("Mini-pig 6 Left", C_PINK, B_mp6_left)],
    [("Mini-pig 2 Left", C_ORANGE, C_mp2_left), ("Mini-pig 2 Right", C_RED, C_mp2_right),
     ("Mini-pig 3 Left", C_TEAL, C_mp3_left), ("Mini-pig 3 Right", C_GREEN, C_mp3_right),
     ("Mini-pig 6 Left", C_PINK, C_mp6_left)],
    [("Mini-pig 1 Left", C_BLUE, D_mp1_left), ("Mini-pig 1 Left", C_ORANGE, D_mp1_left_b),
     ("Mini-pig 2 Right", C_RED, D_mp2_right), ("Mini-pig 2 Left", C_TEAL, D_mp2_left),
     ("Mini-pig 3 Right", C_GREEN, D_mp3_right), ("Mini-pig 4 Left", C_YELLOW, D_mp4_left),
     ("Mini-pig 6 Left", C_PINK, D_mp6_left)],
]
fits = [(A_fit_x, A_fit_y, A_fit_lo, A_fit_hi), (B_fit_x, B_fit_y, B_fit_lo, B_fit_hi),
        (C_fit_x, C_fit_y, C_fit_lo, C_fit_hi), (D_fit_x, D_fit_y, D_fit_lo, D_fit_hi)]

# ---------------- LAYOUT GEOMETRY (pixels) ----------------
def px(x):
    return x / W

def py(y):
    return 1 - y / H

geo = [
    dict(top=0.75, bot=296, ytop=46, ybot=259, xr=458, legx=459, legy=36, letter=22, rho=33, xt=272),
    dict(top=296, bot=591, ytop=343, ybot=557, xr=448, legx=454, legy=333, letter=318, rho=330, xt=568),
    dict(top=591, bot=887, ytop=641, ybot=854, xr=448, legx=454, legy=635, letter=614, rho=627, xt=865),
    dict(top=887, bot=1186.5, ytop=928, ybot=1142, xr=448, legx=454, legy=924, letter=911, rho=915, xt=1152),
]

FONT = "Arial, Liberation Sans, Helvetica, sans-serif"
TXT = "#222222"
AXC = "#6a6a6a"

fig = go.Figure()
layout = dict(width=W, height=H, margin=dict(l=0, r=0, t=0, b=0), autosize=False,
              paper_bgcolor="white", plot_bgcolor="white", font=dict(family=FONT, color=TXT, size=16),
              shapes=[], annotations=[])

for i, (series, fit, g) in enumerate(zip(panels_series, fits, geo)):
    k = "" if i == 0 else str(i + 1)
    xa, ya, lg = "x" + k, "y" + k, "legend" + k
    for name, color, pts in series:
        fig.add_trace(go.Scatter(x=[p[0] for p in pts], y=[p[1] for p in pts], mode="markers",
                                 marker=dict(size=3, color=color, line=dict(width=0)),
                                 name=name, xaxis=xa, yaxis=ya, legend=lg, showlegend=True))
    fx, fy, flo, fhi = fit
    fig.add_trace(go.Scatter(x=fx + fx[::-1], y=fhi + flo[::-1], fill="toself", mode="lines",
                             line=dict(width=0), fillcolor="rgba(255,60,60,0.20)", hoverinfo="skip",
                             showlegend=False, xaxis=xa, yaxis=ya))
    fig.add_trace(go.Scatter(x=fx, y=fy, mode="lines", line=dict(color="#ff0000", width=3),
                             showlegend=False, xaxis=xa, yaxis=ya))
    zero_py = (g["ytop"] + g["ybot"]) / 2
    layout["xaxis" + k] = dict(domain=[px(110), px(g["xr"])], range=[0, 12.5], anchor="free",
                               position=py(zero_py), showline=True, linecolor=AXC, linewidth=1,
                               ticks="inside", ticklen=5, tickcolor=AXC, tickvals=x_ticks,
                               tickfont=dict(size=17, color=TXT), showgrid=False, zeroline=False,
                               ticklabelstandoff=11)
    layout["yaxis" + k] = dict(domain=[py(g["ybot"]), py(g["ytop"])], range=[-8, 8], anchor=xa,
                               showline=True, linecolor=AXC, linewidth=1, ticks="outside", ticklen=5,
                               tickcolor=AXC, tickvals=y_ticks, tickfont=dict(size=17, color=TXT),
                               showgrid=False, zeroline=False)
    layout[lg] = dict(x=px(g["legx"]), y=py(g["legy"]), xanchor="left", yanchor="top",
                      font=dict(size=16, color=TXT, family=FONT), itemsizing="constant",
                      bgcolor="rgba(0,0,0,0)", tracegroupgap=0)
    layout["shapes"].append(dict(type="rect", xref="paper", yref="paper", x0=px(0.75), x1=px(626.25),
                                 y0=py(g["bot"]), y1=py(g["top"]), line=dict(color="#555555", width=1.5)))
    layout["annotations"] += [
        dict(text=panel_letters[i], x=px(15), y=py(g["letter"]), xref="paper", yref="paper",
             xanchor="left", yanchor="middle", showarrow=False, font=dict(size=17, color=TXT)),
        dict(text="<i>ρ</i><sub>S</sub> = " + rho_text[i] + "\u00a0\u00a0\u00a0(p < 0.001)",
             x=px(g["xr"]), y=py(g["rho"]), xref="paper", yref="paper", xanchor="right",
             yanchor="middle", showarrow=False, font=dict(size=17, color=TXT)),
        dict(text=y_titles[i], x=px(62), y=py(zero_py), xref="paper", yref="paper", textangle=-90,
             xanchor="center", yanchor="middle", showarrow=False, font=dict(size=19, color=TXT)),
        dict(text=x_titles[i], x=px((110 + g["xr"]) / 2), y=py(g["xt"]), xref="paper", yref="paper",
             xanchor="center", yanchor="middle", showarrow=False, font=dict(size=18, color=TXT)),
    ]

fig.update_layout(**layout)
fig.write_html("out.html")
